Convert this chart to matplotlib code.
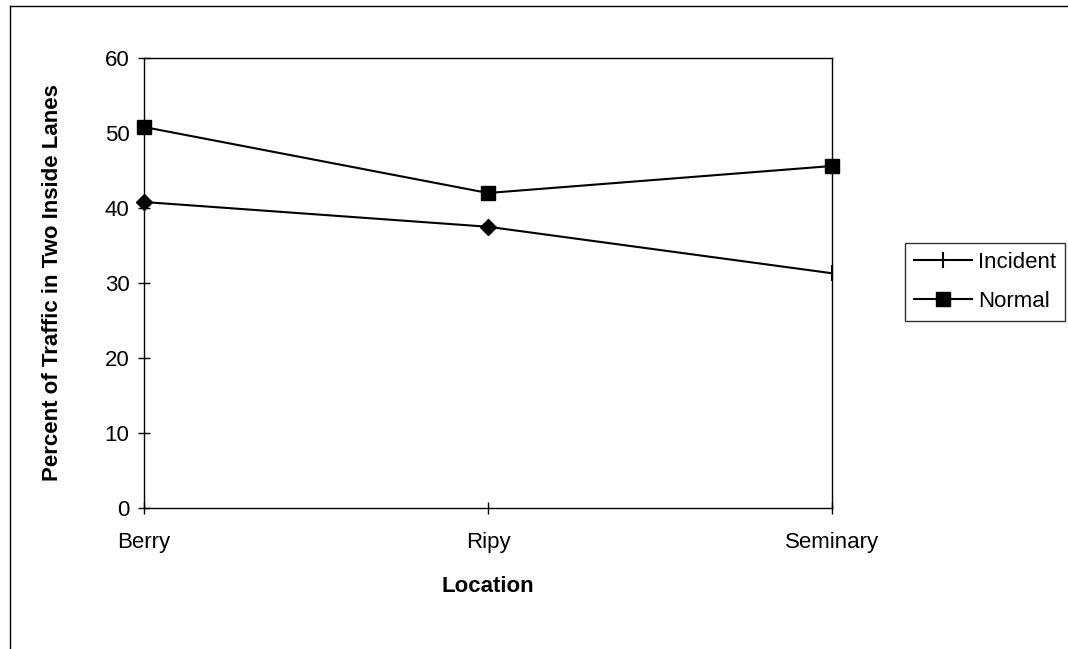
import matplotlib.pyplot as plt
from matplotlib.lines import Line2D

plt.rcParams['font.family'] = ['Liberation Sans', 'DejaVu Sans']

## chart data ##############################################################
locations = ['Berry', 'Ripy', 'Seminary']
incident = [40.8, 37.5, 31.3]
normal = [50.8, 42.0, 45.6]
yticks = [0, 10, 20, 30, 40, 50, 60]

fig = plt.figure(figsize=(10.68, 6.49), dpi=100)
ax = fig.add_axes([144 / 1068, 1 - 508 / 649, (832 - 144) / 1068, (508 - 58) / 649])

x = list(range(len(locations)))

# Incident: diamonds at the first two points, a vertical tick at the last one
ax.plot(x, incident, color='black', lw=1.5, marker='|', markersize=11,
        markeredgewidth=1.5, markevery=[2], clip_on=False, zorder=3)
ax.plot(x[:2], incident[:2], ls='none', marker='D', markersize=8,
        color='black', clip_on=False, zorder=4)
ax.plot(x, normal, color='black', lw=1.5, marker='s', markersize=10,
        clip_on=False, zorder=4)

ax.set_xlim(0, 2)
ax.set_ylim(0, 60)
ax.set_xticks(x)
ax.set_xticklabels(locations)
ax.set_yticks(yticks)
ax.tick_params(direction='inout', length=9, width=1, labelsize=16)
ax.tick_params(axis='x', pad=13)
ax.tick_params(axis='y', pad=6)

for s in ax.spines.values():
    s.set_linewidth(1)
    s.set_color('black')

ax.set_xlabel('Location', fontsize=16, fontweight='bold', labelpad=16)
ax.set_ylabel('Percent of Traffic in Two Inside Lanes', fontsize=16,
              fontweight='bold', labelpad=30)

handles = [
    Line2D([], [], color='black', lw=1.5, marker='|', markersize=11, markeredgewidth=1.5),
    Line2D([], [], color='black', lw=1.5, marker='s', markersize=10),
]
leg = fig.legend(handles, ['Incident', 'Normal'], loc='upper left',
                 bbox_to_anchor=(905 / 1068, 1 - 243 / 649), fontsize=16,
                 frameon=True, fancybox=False, edgecolor='black',
                 handlelength=2.6, handletextpad=0.3, labelspacing=0.8,
                 borderpad=0.4, borderaxespad=0)
leg.get_frame().set_linewidth(1)

# outer chart-area border (left and top edges)
fig.add_artist(Line2D([10 / 1068, 10 / 1068], [0, 1 - 6 / 649], color='black', lw=1))
fig.add_artist(Line2D([10 / 1068, 1], [1 - 6 / 649, 1 - 6 / 649], color='black', lw=1))

fig.savefig('out.png', dpi=100)
